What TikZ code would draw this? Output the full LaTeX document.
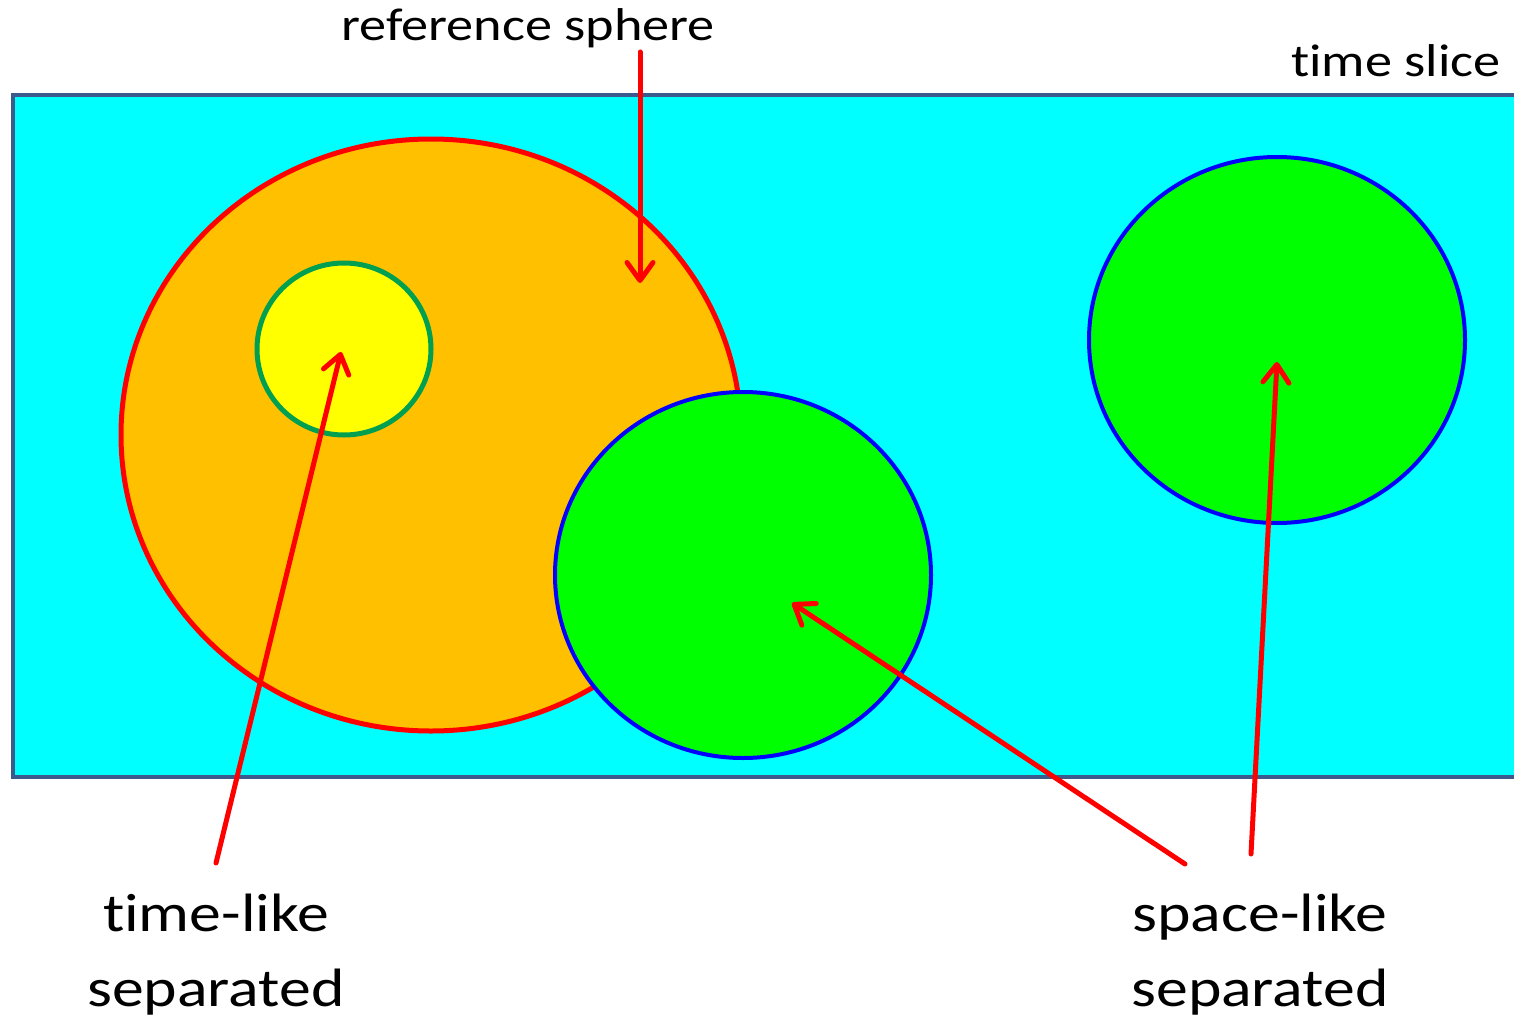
\documentclass[tikz,border=0pt]{standalone}
\usepackage{fontspec}
\setmainfont{Carlito}[FakeStretch=1.18, Ligatures=NoCommon]
\usetikzlibrary{arrows.meta,shapes.geometric}
\definecolor{slice}{HTML}{3B5B8C}
\definecolor{cyanfill}{HTML}{00FFFF}
\definecolor{orangefill}{HTML}{FFC000}
\definecolor{greenfill}{HTML}{00FF00}
\definecolor{yellowfill}{HTML}{FFFF00}
\definecolor{ringgreen}{HTML}{00A050}
\definecolor{ringblue}{HTML}{0000FF}
\definecolor{arrowred}{HTML}{FF0000}
\tikzset{
  ptr/.style={draw=arrowred, line width=5pt, line cap=round,
    -{Straight Barb[length=18pt, width=26pt, line width=5pt, round]}},
  blob/.style={ellipse, inner sep=0pt, outer sep=0pt},
  bigtext/.style={font=\fontsize{54}{75}\selectfont, align=center},
  smalltext/.style={font=\fontsize{46}{50}\selectfont},
}
\begin{document}
\begin{tikzpicture}[x=1pt,y=-1pt]
\useasboundingbox (0,0) rectangle (1514,1022);
% time slice
\fill[cyanfill] (13,95) rectangle (1520,777);
\draw[slice, line width=4pt] (1520,95) -- (13,95) -- (13,777) -- (1520,777);
% spheres
\node[blob, draw=arrowred, fill=orangefill, line width=5pt, minimum width=620pt, minimum height=592pt] (refs) at (431,435) {};
\node[blob, draw=ringgreen, fill=yellowfill, line width=5pt, minimum width=174pt, minimum height=172pt] (inner) at (344,349) {};
\node[blob, draw=ringblue, fill=greenfill, line width=4pt, minimum width=376pt, minimum height=366pt] (midg) at (743,575) {};
\node[blob, draw=ringblue, fill=greenfill, line width=4pt, minimum width=376pt, minimum height=366pt] (rightg) at (1277,340) {};
% labels
\node[smalltext] (reflabel) at (528,28) {reference sphere};
\node[smalltext, anchor=east] (slicelabel) at (1504,61) {time slice};
\node[bigtext] (tl) at (216,955) {time-like\\separated};
\node[bigtext] (sl) at (1260,955) {space-like\\separated};
% pointers
\coordinate (a1s) at (640,52);
\coordinate (a1e) at (640,283);
\coordinate (a2s) at (216,863);
\coordinate (a2e) at (341,352);
\coordinate (a3s) at (1185,864);
\coordinate (a3e) at (792,603);
\coordinate (a4s) at (1251,854);
\coordinate (a4e) at (1277,362);
\draw[ptr] (a1s) -- (a1e);
\draw[ptr] (a2s) -- (a2e);
\draw[ptr] (a3s) -- (a3e);
\draw[ptr] (a4s) -- (a4e);
\end{tikzpicture}
\end{document}
